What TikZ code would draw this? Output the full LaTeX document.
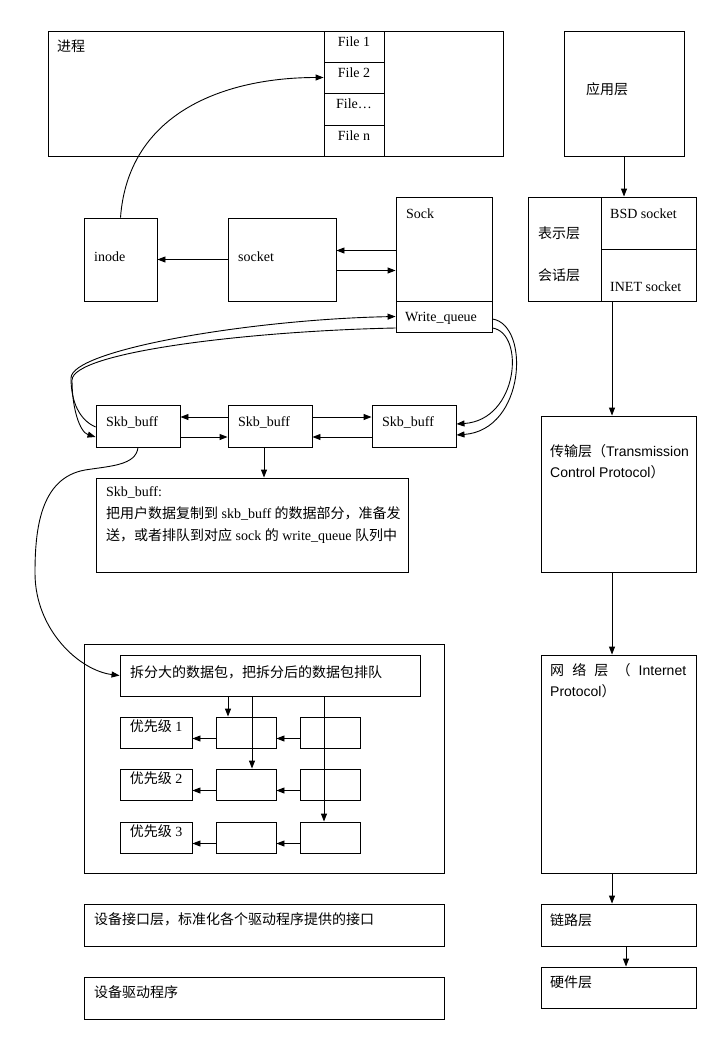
\documentclass[tikz,border=0pt]{standalone}
\usepackage{fontspec}
\setmainfont{Liberation Serif}
\setsansfont{Liberation Sans}
\newfontfamily\cjk{Noto Sans CJK SC}
\newcommand\zh[1]{{\cjk #1}}
\usetikzlibrary{arrows.meta,fit}
\tikzset{
	box/.style={draw, line width=0.9pt, inner sep=0pt},
	txt/.style={anchor=west, inner sep=0pt},
	arr/.style={line width=0.9pt, -{Triangle[length=8pt,width=6pt]}},
}
\begin{document}
\begin{tikzpicture}[x=1pt,y=-1pt,font=\fontsize{14}{17}\selectfont]
	\useasboundingbox (0,0) rectangle (709,1041);
	% 进程 + file table
	\node[box, fit={(48,31) (503,156)}] (proc) {};
	\node[txt] (procT) at (57,46) {\zh{进程}};
	\node[box, fit={(324,31) (384,62)}] (file1) {File 1};
	\node[box, fit={(324,62) (384,93)}] (file2) {File 2};
	\node[box, fit={(324,93) (384,125)}] (file3) {File\dots};
	\node[box, fit={(324,125) (384,156)}] (file4) {File n};
	% inode, socket, sock
	\node[box, fit={(84,218) (157,301)}] (inode) {};
	\node[txt] (inodeT) at (94,257) {inode};
	\node[box, fit={(228,218) (336,301)}] (socket) {};
	\node[txt] (socketT) at (238,257) {socket};
	\node[box, fit={(396,197) (492,301)}] (sock) {};
	\node[txt] (sockT) at (406,214) {Sock};
	\node[box, fit={(396,301) (492,332)}] (wq) {};
	\node[txt] (wqT) at (405,318) {Write\_queue};
	\draw[arr] (inode.north) .. controls +(8,-108) and +(-94,0) .. (file2.west);
	\draw[arr] (socket.west) -- (inode.east);
	\coordinate (s1) at ([yshift=9]socket.east);
	\coordinate (s2) at ([yshift=-11]socket.east);
	\draw[arr] (s1 -| sock.west) -- (s1);
	\draw[arr] (s2) -- (s2 -| sock.west);
	% skb_buff list
	\node[box, fit={(96,405) (180,447)}] (skb1) {};
	\node[txt] (skb1T) at (106,422) {Skb\_buff};
	\node[box, fit={(228,405) (312,447)}] (skb2) {};
	\node[txt] (skb2T) at (238,422) {Skb\_buff};
	\node[box, fit={(372,405) (456,447)}] (skb3) {};
	\node[txt] (skb3T) at (382,422) {Skb\_buff};
	\draw[arr] ([yshift=9]skb2.west) -- ([yshift=9]skb1.east);
	\draw[arr] ([yshift=-11]skb1.east) -- ([yshift=-11]skb2.west);
	\draw[arr] ([yshift=9]skb2.east) -- ([yshift=9]skb3.west);
	\draw[arr] ([yshift=-11]skb3.west) -- ([yshift=-11]skb2.east);
	% write_queue <-> skb_buff
	\coordinate (bendA) at (71,378);
	\coordinate (bendB) at (72,380);
	\draw[arr] ([yshift=-1]skb1.west) .. controls +(-16,-7) and +(0,24) .. (bendA)
		.. controls +(0,-28) and +(-146,3) .. (wq.west);
	\draw[arr] ([yshift=-11.5]wq.west) .. controls +(-146,3) and +(1,-28) .. (bendB)
		.. controls +(0,28) and +(-16,-5) .. ([yshift=-11]skb1.west);
	\draw[arr] ([yshift=-2.5]wq.east) .. controls +(38,6) and +(69,-5) .. ([yshift=-9]skb3.east);
	\draw[arr] ([yshift=-11.5]wq.east) .. controls +(33,5) and +(62,-4) .. ([yshift=2]skb3.east);
	% note
	\node[box, fit={(96,478) (408,572)}] (note) {};
	\node[txt, anchor=north west, align=left, font=\fontsize{14}{22}\selectfont] (noteT) at (106,486)
		{Skb\_buff:\\\zh{把用户数据复制到} skb\_buff \zh{的数据部分，准备发}\\\zh{送，或者排队到对应} sock \zh{的} write\_queue \zh{队列中}};
	\coordinate (s3) at ([xshift=-6]skb2.south);
	\draw[arr] (s3) -- (s3 |- note.north);
	% queueing
	\node[box, fit={(84,644) (444,873)}] (tx) {};
	\node[box, fit={(120,655) (420,696)}] (split) {};
	\node[txt] (splitT) at (130,672) {\zh{拆分大的数据包，把拆分后的数据包排队}};
	\coordinate (bendC) at (85,470);
	\coordinate (bendD) at (35,573);
	\draw[arr] (skb1.south) .. controls +(-2,18) and +(25,-4) .. (bendC)
		.. controls +(-45,8) and +(0,-43) .. (bendD)
		.. controls +(0,57) and +(-40,-5) .. (split.west);
	\foreach \i/\y in {1/717,2/769,3/822}{
		\node[box, fit={(120,\y) (192,\y+31)}] (p\i) {\zh{优先级} \i};
		\node[box, fit={(216,\y) (276,\y+31)}] (m\i) {};
		\node[box, fit={(300,\y) (360,\y+31)}] (r\i) {};
		\draw[arr] ([yshift=-6]m\i.west) -- ([yshift=-6]p\i.east);
		\draw[arr] ([yshift=-6]r\i.west) -- ([yshift=-6]m\i.east);
	}
	\coordinate (q1) at ([xshift=-18]m1.north);
	\coordinate (q2) at ([xshift=6]m2.north);
	\coordinate (q3) at ([xshift=-6]r3.north);
	\draw[arr] (q1 |- split.south) -- (q1);
	\draw[arr] (q2 |- split.south) -- (q2);
	\draw[arr] (q3 |- split.south) -- (q3);
	% device layers
	\node[box, fit={(84,904) (444,946)}] (dev) {};
	\node[txt] (devT) at (94,919) {\zh{设备接口层，标准化各个驱动程序提供的接口}};
	\node[box, fit={(84,977) (444,1019)}] (drv) {};
	\node[txt] (drvT) at (94,992) {\zh{设备驱动程序}};
	% protocol stack
	\node[box, fit={(564,31) (684,156)}] (app) {};
	\node[txt] (appT) at (586,89) {\zh{应用层}};
	\node[box, fit={(528,197) (601,301)}] (pres) {};
	\node[txt] (presT) at (538,233) {\zh{表示层}};
	\node[txt] (sessT) at (538,275) {\zh{会话层}};
	\node[box, fit={(601,197) (696,249)}] (bsd) {};
	\node[txt] (bsdT) at (610,214) {BSD socket};
	\node[box, fit={(601,249) (696,301)}] (inet) {};
	\node[txt] (inetT) at (610,287) {INET socket};
	\node[box, fit={(541,416) (696,572)}] (trans) {};
	\node[txt, anchor=north west, align=left, font=\sffamily\fontsize{14}{21}\selectfont] (transT) at (550,444)
		{\zh{传输层（}Transmission\\Control Protocol\zh{）}};
	\node[box, fit={(541,655) (696,873)}] (net) {};
	\node[txt, anchor=north west, align=left, font=\sffamily\fontsize{14}{21}\selectfont] (netT) at (550,663)
		{\makebox[136pt][s]{\zh{网} \zh{络} \zh{层} \zh{（} Internet}\\Protocol\zh{）}};
	\node[box, fit={(541,904) (696,946)}] (lnk) {};
	\node[txt] (lnkT) at (550,920) {\zh{链路层}};
	\node[box, fit={(541,967) (696,1008)}] (hw) {};
	\node[txt] (hwT) at (550,982) {\zh{硬件层}};
	\draw[arr] (app.south) -- (app.south |- bsd.north);
	\coordinate (c1) at ([xshift=-6.5]trans.north);
	\coordinate (c2) at ([xshift=-6.5]net.north);
	\coordinate (c3) at ([xshift=-6.5]lnk.north);
	\coordinate (c4) at ([xshift=7.5]hw.north);
	\draw[arr] (c1 |- inet.south) -- (c1);
	\draw[arr] (c2 |- trans.south) -- (c2);
	\draw[arr] (c3 |- net.south) -- (c3);
	\draw[arr] (c4 |- lnk.south) -- (c4);
\end{tikzpicture}
\end{document}
